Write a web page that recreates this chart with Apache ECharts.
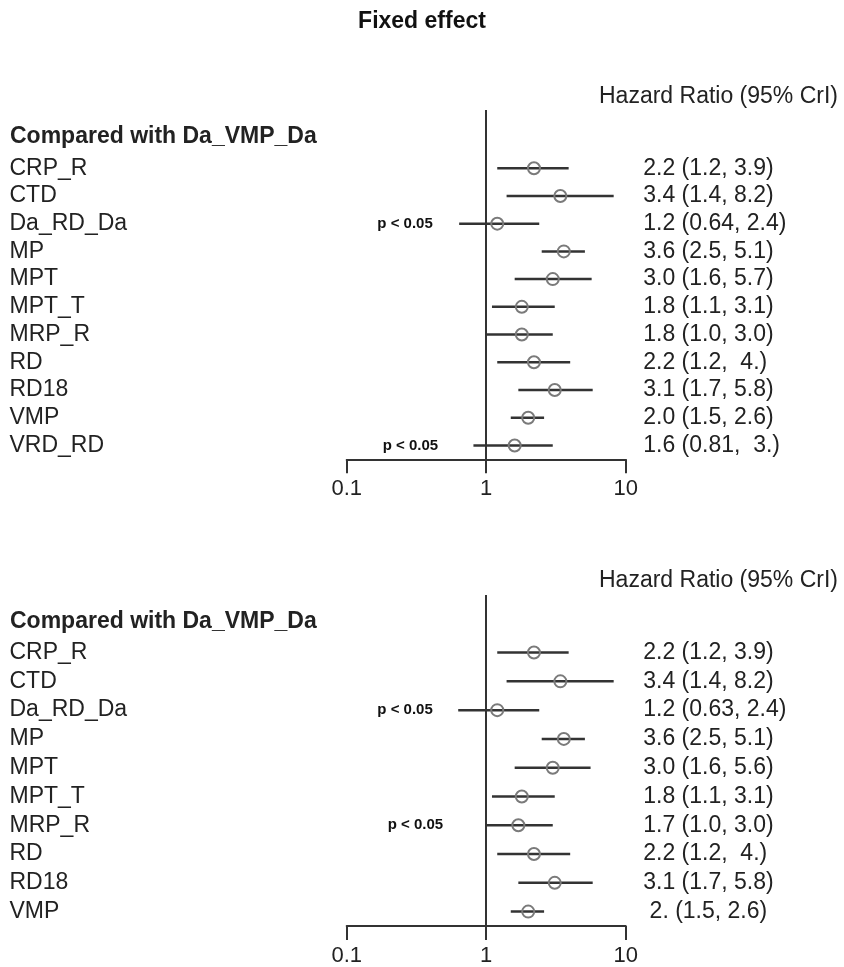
<!DOCTYPE html>
<html>
<head>
<meta charset="utf-8">
<script src="https://cdn.jsdelivr.net/npm/echarts@6/dist/echarts.min.js"></script>
<style>
html,body{margin:0;padding:0;background:#fff;}
#chart{width:844px;height:967px;}
</style>
</head>
<body>
<div id="chart"></div>
<script>
// ---- data: top panel ----
const names1 = ['CRP_R','CTD','Da_RD_Da','MP','MPT','MPT_T','MRP_R','RD','RD18','VMP','VRD_RD'];
const est1 = [2.2, 3.4, 1.2, 3.6, 3.0, 1.8, 1.8, 2.2, 3.1, 2.0, 1.6];
const lo1  = [1.2, 1.4, 0.64, 2.5, 1.6, 1.1, 1.0, 1.2, 1.7, 1.5, 0.81];
const hi1  = [3.9, 8.2, 2.4, 5.1, 5.7, 3.1, 3.0, 4.0, 5.8, 2.6, 3.0];
const txt1 = ['2.2 (1.2, 3.9)','3.4 (1.4, 8.2)','1.2 (0.64, 2.4)','3.6 (2.5, 5.1)','3.0 (1.6, 5.7)',
              '1.8 (1.1, 3.1)','1.8 (1.0, 3.0)','2.2 (1.2,  4.)','3.1 (1.7, 5.8)','2.0 (1.5, 2.6)','1.6 (0.81,  3.)'];
const pRows1 = [2, 10];
const pX1 = [0.262, 0.286];

// ---- data: bottom panel ----
const names2 = ['CRP_R','CTD','Da_RD_Da','MP','MPT','MPT_T','MRP_R','RD','RD18','VMP'];
const est2 = [2.2, 3.4, 1.2, 3.6, 3.0, 1.8, 1.7, 2.2, 3.1, 2.0];
const lo2  = [1.2, 1.4, 0.63, 2.5, 1.6, 1.1, 1.0, 1.2, 1.7, 1.5];
const hi2  = [3.9, 8.2, 2.4, 5.1, 5.6, 3.1, 3.0, 4.0, 5.8, 2.6];
const txt2 = ['2.2 (1.2, 3.9)','3.4 (1.4, 8.2)','1.2 (0.63, 2.4)','3.6 (2.5, 5.1)','3.0 (1.6, 5.6)',
              '1.8 (1.1, 3.1)','1.7 (1.0, 3.0)','2.2 (1.2,  4.)','3.1 (1.7, 5.8)',' 2. (1.5, 2.6)'];
const pRows2 = [2, 6];
const pX2 = [0.262, 0.311];

const xTicks = ['0.1', '1', '10'];
const xMin = 0.1, xMax = 10;

const FONT = '"Liberation Sans", Arial, sans-serif';
const INK = '#222';
const LINE = '#333';

const chart = echarts.init(document.getElementById('chart'), null, {renderer: 'canvas'});

function xAxisFor(gi) {
  return {
    type: 'log', logBase: 10, min: xMin, max: xMax, gridIndex: gi, position: 'bottom',
    axisLine: {show: true, onZero: false, lineStyle: {color: LINE, width: 2}},
    axisTick: {show: true, inside: false, length: 14, lineStyle: {color: LINE, width: 2}},
    axisLabel: {
      show: true, margin: 19, fontSize: 22, color: INK, fontFamily: FONT,
      formatter: function (v) {
        const e = Math.round(Math.log10(v)) + 1;
        return xTicks[e] !== undefined ? xTicks[e] : '';
      }
    },
    splitLine: {show: true, lineStyle: {color: ['rgba(0,0,0,0)', LINE, 'rgba(0,0,0,0)'], width: 2}}
  };
}
function yAxisFor(gi, min, max) {
  return {type: 'value', gridIndex: gi, inverse: true, min: min, max: max, show: false,
          splitLine: {show: false}};
}

function panelSeries(gi, names, est, lo, hi, txt, pRows, pX) {
  const ciData = names.map((n, i) => [lo[i], hi[i], i]);
  const estData = names.map((n, i) => [est[i], i]);
  const nameData = names.map((n, i) => ({value: [xMin, i], name: n}));
  const txtData = names.map((n, i) => ({value: [xMax, i], name: txt[i]}));
  const pData = pRows.map((r, k) => ({value: [pX[k], r], name: 'p < 0.05'}));
  const hidden = {color: 'rgba(0,0,0,0)', opacity: 1};
  return [
    {
      type: 'custom', xAxisIndex: gi, yAxisIndex: gi, silent: true, z: 3,
      encode: {x: [0, 1], y: 2},
      data: ciData,
      renderItem: function (params, api) {
        const a = api.coord([api.value(0), api.value(2)]);
        const b = api.coord([api.value(1), api.value(2)]);
        return {type: 'line', shape: {x1: a[0], y1: a[1], x2: b[0], y2: b[1]},
                style: {stroke: LINE, lineWidth: 2.5}};
      }
    },
    {
      type: 'scatter', xAxisIndex: gi, yAxisIndex: gi, silent: true, z: 4,
      symbol: 'circle', symbolSize: 12,
      itemStyle: {color: 'rgba(0,0,0,0)', borderColor: '#7a7a7a', borderWidth: 2, opacity: 1},
      data: estData
    },
    {
      type: 'scatter', xAxisIndex: gi, yAxisIndex: gi, silent: true, z: 5,
      symbolSize: 1, itemStyle: hidden,
      data: nameData,
      label: {show: true, position: 'left', distance: 336.7, align: 'left', verticalAlign: 'middle',
              formatter: p => p.name, fontSize: 23, color: INK, opacity: 1, fontFamily: FONT}
    },
    {
      type: 'scatter', xAxisIndex: gi, yAxisIndex: gi, silent: true, z: 5,
      symbolSize: 1, itemStyle: hidden,
      data: txtData,
      label: {show: true, position: 'right', distance: 17, align: 'left', verticalAlign: 'middle',
              formatter: p => p.name, fontSize: 23, color: INK, opacity: 1, fontFamily: FONT}
    },
    {
      type: 'scatter', xAxisIndex: gi, yAxisIndex: gi, silent: true, z: 5,
      symbolSize: 1, itemStyle: hidden,
      data: pData,
      label: {show: true, position: 'inside', align: 'center', verticalAlign: 'middle',
              formatter: p => p.name, fontSize: 15, fontWeight: 'bold', color: '#111', opacity: 1,
              fontFamily: FONT}
    }
  ];
}

const headerStyle = {fontSize: 23, fontWeight: 'normal', color: INK, fontFamily: FONT};
const compStyle = {fontSize: 23, fontWeight: 'bold', color: INK, fontFamily: FONT};

const option = {
  backgroundColor: '#fff',
  animation: false,
  title: [
    {text: 'Fixed effect', left: 'center', top: 10, padding: 0,
     textStyle: {fontSize: 23, fontWeight: 'bold', color: '#111', fontFamily: FONT}},
    {text: 'Hazard Ratio (95% CrI)', right: 6, top: 85, padding: 0, textStyle: headerStyle},
    {text: 'Compared with Da_VMP_Da', left: 10, top: 125, padding: 0, textStyle: compStyle},
    {text: 'Hazard Ratio (95% CrI)', right: 6, top: 569, padding: 0, textStyle: headerStyle},
    {text: 'Compared with Da_VMP_Da', left: 10, top: 610, padding: 0, textStyle: compStyle}
  ],
  grid: [
    {left: 346.7, width: 279, top: 110, height: 349.3, containLabel: false},
    {left: 346.7, width: 279, top: 595, height: 331, containLabel: false}
  ],
  xAxis: [xAxisFor(0), xAxisFor(1)],
  yAxis: [yAxisFor(0, -2.1, names1.length - 0.5), yAxisFor(1, -2, names2.length - 0.5)],
  series: [].concat(
    panelSeries(0, names1, est1, lo1, hi1, txt1, pRows1, pX1),
    panelSeries(1, names2, est2, lo2, hi2, txt2, pRows2, pX2)
  )
};
chart.setOption(option);
</script>
</body>
</html>
